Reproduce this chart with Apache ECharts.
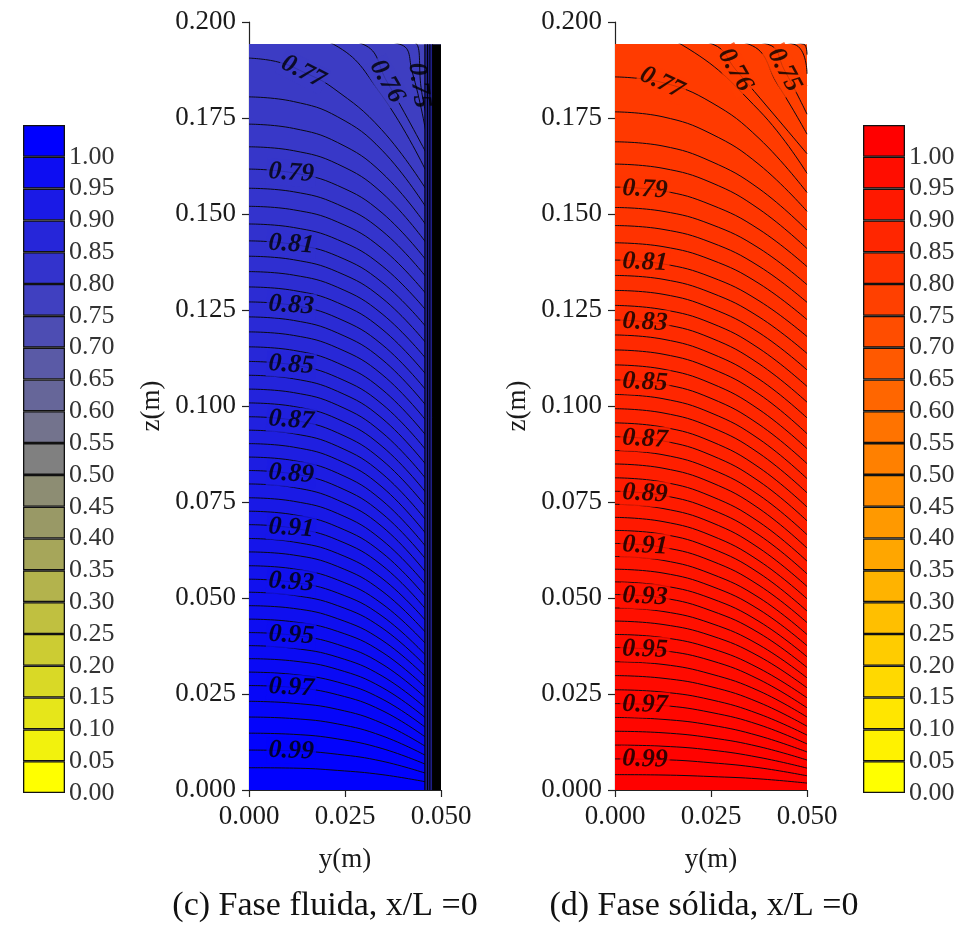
<!DOCTYPE html>
<html><head><meta charset="utf-8">
<script src="https://cdn.jsdelivr.net/npm/echarts@6/dist/echarts.min.js"></script>
<style>html,body{margin:0;padding:0;background:#fff}#c{width:960px;height:926px}</style>
</head><body><div id="c"></div>
<script>
// ---------------- DATA ----------------
const TOP_Z = 0.1942;               // top of computed domain (m)
// y sample positions (m) for the regular contour rows
const fluidY = [0, 0.01155, 0.0231, 0.03465, 0.0462];
const solidY = [0, 0.0125, 0.025, 0.0375, 0.05];

// regular contour levels (0.005 step) and z (m) at the sample positions
const fluidLevels = [0.775,0.78,0.785,0.79,0.795,0.80,0.805,0.81,0.815,0.82,0.825,0.83,0.835,0.84,0.845,0.85,0.855,0.86,0.865,0.87,0.875,0.88,0.885,0.89,0.895,0.90,0.905,0.91,0.915,0.92,0.925,0.93,0.935,0.94,0.945,0.95,0.955,0.96,0.965,0.97,0.975,0.98,0.985,0.99,0.995];
const fluidZ = [
[.1805,.1793,.1753,.1666,.1516],[.1734,.1723,.1686,.1607,.1470],[.1675,.1665,.1630,.1555,.1424],[.1617,.1607,.1574,.1503,.1379],
[.1567,.1558,.1525,.1456,.1335],[.1520,.1511,.1479,.1410,.1291],[.1474,.1465,.1433,.1365,.1248],[.1430,.1421,.1390,.1322,.1205],
[.1390,.1381,.1349,.1281,.1163],[.1350,.1341,.1309,.1240,.1122],[.1310,.1301,.1269,.1200,.1081],[.1271,.1262,.1229,.1160,.1040],
[.1232,.1223,.1190,.1121,.1000],[.1193,.1184,.1151,.1082,.0961],[.1154,.1145,.1112,.1043,.0922],[.1116,.1107,.1074,.1005,.0884],
[.1080,.1071,.1038,.0968,.0846],[.1044,.1035,.1002,.0931,.0809],[.1008,.0999,.0966,.0895,.0773],[.0972,.0963,.0930,.0859,.0737],
[.0937,.0928,.0895,.0824,.0701],[.0902,.0893,.0860,.0789,.0666],[.0867,.0858,.0825,.0754,.0632],[.0832,.0823,.0790,.0720,.0599],
[.0797,.0788,.0755,.0686,.0565],[.0761,.0752,.0720,.0651,.0533],[.0726,.0717,.0685,.0618,.0501],[.0691,.0682,.0651,.0585,.0469],
[.0655,.0646,.0616,.0551,.0439],[.0620,.0612,.0582,.0518,.0408],[.0584,.0576,.0547,.0485,.0379],[.0549,.0541,.0513,.0453,.0349],
[.0515,.0507,.0480,.0422,.0321],[.0480,.0473,.0446,.0390,.0293],[.0445,.0438,.0413,.0359,.0265],[.0410,.0403,.0379,.0328,.0238],
[.0376,.0369,.0346,.0297,.0212],[.0342,.0336,.0314,.0267,.0186],[.0307,.0301,.0281,.0237,.0161],[.0272,.0267,.0248,.0207,.0136],
[.0231,.0226,.0210,.0174,.0112],[.0190,.0186,.0172,.0141,.0089],[.0148,.0145,.0133,.0108,.0066],[.0104,.0102,.0093,.0075,.0043],
[.0058,.0057,.0051,.0040,.0021]
];
// contours near the top edge, given as [y, z] points
const fluidTopLevels = [0.75, 0.755, 0.76, 0.765, 0.77];
const fluidTopPts = [
[[0,.2],[.0437,.1942],[.0448,.183],[.0462,.1755]],
[[0,.2],[.0393,.1942],[.0425,.187],[.0462,.1706]],
[[0,.2],[.0297,.1942],[.0359,.1845],[.0462,.1658]],
[[0,.2],[.022,.1942],[.0345,.181],[.0462,.161]],
[[0,.1906],[.0075,.1896],[.0141,.187],[.0219,.1828],[.0345,.172],[.0462,.1563]]
];
// dense wall layer of the fluid phase
const fluidWallLines = [0.0458, 0.0465, 0.0471, 0.0478];
const fluidStripNavy = [0.0458, 0.0479];
const fluidStripBlack = [0.0479, 0.05];

const solidLevels = [0.77,0.775,0.78,0.785,0.79,0.795,0.80,0.805,0.81,0.815,0.82,0.825,0.83,0.835,0.84,0.845,0.85,0.855,0.86,0.865,0.87,0.875,0.88,0.885,0.89,0.895,0.90,0.905,0.91,0.915,0.92,0.925,0.93,0.935,0.94,0.945,0.95,0.955,0.96,0.965,0.97,0.975,0.98,0.985,0.99,0.995];
const solidZ = [
[.1857,.1842,.1791,.1697,.1556],[.1766,.1753,.1709,.1629,.1507],[.1688,.1677,.1637,.1566,.1458],[.1630,.1619,.1582,.1513,.1410],
[.1570,.1560,.1524,.1460,.1363],[.1517,.1507,.1473,.1411,.1316],[.1470,.1460,.1426,.1364,.1270],[.1425,.1415,.1381,.1319,.1225],
[.1380,.1370,.1336,.1274,.1181],[.1340,.1330,.1295,.1232,.1137],[.1301,.1291,.1255,.1191,.1094],[.1262,.1251,.1216,.1150,.1051],
[.1224,.1213,.1177,.1110,.1010],[.1185,.1174,.1137,.1070,.0969],[.1146,.1135,.1098,.1031,.0928],[.1107,.1096,.1059,.0991,.0889],
[.1068,.1057,.1020,.0952,.0850],[.1030,.1019,.0982,.0914,.0811],[.0993,.0982,.0945,.0877,.0774],[.0956,.0945,.0908,.0840,.0737],
[.0920,.0909,.0872,.0804,.0701],[.0884,.0873,.0836,.0768,.0665],[.0849,.0838,.0801,.0733,.0630],[.0813,.0802,.0765,.0698,.0596],
[.0778,.0767,.0731,.0664,.0563],[.0744,.0733,.0697,.0630,.0530],[.0710,.0699,.0663,.0597,.0498],[.0676,.0666,.0630,.0565,.0466],
[.0642,.0632,.0597,.0533,.0436],[.0608,.0598,.0563,.0501,.0405],[.0575,.0565,.0531,.0470,.0376],[.0542,.0532,.0499,.0439,.0347],
[.0509,.0500,.0467,.0409,.0319],[.0474,.0465,.0434,.0378,.0292],[.0440,.0431,.0402,.0348,.0266],[.0405,.0397,.0369,.0317,.0240],
[.0371,.0363,.0337,.0288,.0214],[.0334,.0327,.0302,.0258,.0190],[.0298,.0291,.0269,.0228,.0166],[.0261,.0255,.0235,.0198,.0143],
[.0225,.0220,.0202,.0170,.0120],[.0189,.0184,.0169,.0141,.0099],[.0153,.0149,.0136,.0113,.0078],[.0117,.0114,.0104,.0085,.0057],
[.0081,.0079,.0071,.0058,.0037],[.0040,.0039,.0035,.0029,.0018]
];
const solidTopLevels = [0.74, 0.745, 0.75, 0.755, 0.76, 0.765];
const solidTopPts = [
[[0,.2],[.0492,.1942],[.05,.1915]],
[[0,.2],[.0466,.1942],[.05,.1865]],
[[0,.2],[.0398,.1942],[.0441,.1875],[.05,.176]],
[[0,.2],[.0349,.1942],[.0425,.1835],[.05,.1708]],
[[0,.2],[.0255,.1942],[.0315,.1875],[.05,.1657]],
[[0,.1995],[.0172,.1942],[.0375,.177],[.05,.1606]]
];

// contour labels: [text, y, z, rotation, boxed]
const fluidLabels = [
['0.77',0.0141,0.1870,-27,1],['0.76',0.0359,0.1845,-60,1],['0.75',0.0443,0.1835,-82,0],
['0.79',0.011,0.1607,-4,1],['0.81',0.011,0.1421,-4,1],['0.83',0.011,0.1262,-4,1],['0.85',0.011,0.1107,-4,1],
['0.87',0.011,0.0963,-4,1],['0.89',0.011,0.0823,-4,1],['0.91',0.011,0.0682,-4,1],['0.93',0.011,0.0541,-4,1],
['0.95',0.011,0.0403,-3,1],['0.97',0.011,0.0267,-3,1],['0.99',0.011,0.0102,-2,1]
];
const solidLabels = [
['0.77',0.0122,0.1842,-25,1],['0.76',0.0313,0.1875,-60,1],['0.75',0.0441,0.1875,-62,1],
['0.79',0.0078,0.1564,-3,1],['0.81',0.0078,0.1374,-3,1],['0.83',0.0078,0.1218,-3,1],['0.85',0.0078,0.1062,-3,1],
['0.87',0.0078,0.0914,-3,1],['0.89',0.0078,0.0772,-3,1],['0.91',0.0078,0.0636,-3,1],['0.93',0.0078,0.0504,-3,1],
['0.95',0.0078,0.0366,-2,1],['0.97',0.0078,0.0222,-2,1],['0.99',0.0078,0.0080,-2,1]
];

// axis ticks
const yTicks = [0, 0.025, 0.05];
const zTicks = [0, 0.025, 0.05, 0.075, 0.1, 0.125, 0.15, 0.175, 0.2];
// colour bar bands (lower bounds) and labels
const cbBands = [0,0.05,0.10,0.15,0.20,0.25,0.30,0.35,0.40,0.45,0.50,0.55,0.60,0.65,0.70,0.75,0.80,0.85,0.90,0.95,1.00];
const cbTop = 1.05;
const cbLabels = ['0.00','0.05','0.10','0.15','0.20','0.25','0.30','0.35','0.40','0.45','0.50','0.55','0.60','0.65','0.70','0.75','0.80','0.85','0.90','0.95','1.00'];
const captions = ['(c) Fase fluida, x/L =0', '(d) Fase sólida, x/L =0'];

// ---------------- STYLE ----------------
const FONT = 'Liberation Serif, Times New Roman, serif';
function fmap(v){ // yellow -> gray -> blue
  let r,g,b;
  if (v >= 0.5){ const t=(1-v)/0.5; r=128*t; g=128*t; b=255-127*t; }
  else { const t=v/0.5; r=255-127*t; g=r; b=128*t; }
  return 'rgb('+Math.round(r)+','+Math.round(g)+','+Math.round(b)+')';
}
function smap(v){ // yellow -> red
  const g = Math.max(0, Math.min(255, 255*(1-v)));
  return 'rgb(255,'+Math.round(g)+',0)';
}

const PX = 3840; // px per metre
const G = {fluid:{left:249}, solid:{left:615}};
const axisTop = 22, axisH = 768;
const dataTop = axisTop + (0.2 - TOP_Z)*PX;
const SMOOTH = 0.45;

const grids = [], xAxes = [], yAxes = [], series = [];

function addPlot(left, map, levels, rows, ys, topLevels, topPts, labels, isFluid){
  // data grid
  const gi = grids.length;
  grids.push({left:left, top:dataTop, width:0.05*PX, height:TOP_Z*PX, show:true, backgroundColor: map(0.7375), borderWidth:0});
  xAxes.push({gridIndex:gi, type:'value', min:0, max:0.05, show:false});
  yAxes.push({gridIndex:gi, type:'value', min:0, max:TOP_Z, show:false});
  // axis grid
  const ai = grids.length;
  grids.push({left:left, top:axisTop, width:0.05*PX, height:axisH, show:false});
  xAxes.push({gridIndex:ai, type:'value', min:yTicks[0], max:yTicks[yTicks.length-1], interval:yTicks[1]-yTicks[0],
    axisLine:{show:true, lineStyle:{color:'#222', width:1.2}},
    axisTick:{show:true, length:7, lineStyle:{color:'#222', width:1.2}},
    splitLine:{show:false},
    axisLabel:{margin:13, fontFamily:FONT, fontSize:27, color:'#1a1a1a', formatter:v=>v.toFixed(3)},
    name:'y(m)', nameLocation:'middle', nameGap:56, nameTextStyle:{fontFamily:FONT, fontSize:27, color:'#1a1a1a'}});
  yAxes.push({gridIndex:ai, type:'value', min:zTicks[0], max:zTicks[zTicks.length-1], interval:zTicks[1]-zTicks[0],
    axisLine:{show:true, lineStyle:{color:'#222', width:1.2}},
    axisTick:{show:true, length:7, lineStyle:{color:'#222', width:1.2}},
    splitLine:{show:false},
    axisLabel:{margin:13, fontFamily:FONT, fontSize:27, color:'#1a1a1a', formatter:v=>v.toFixed(3)},
    name:'z(m)', nameLocation:'middle', nameGap:84, nameRotate:90, nameTextStyle:{fontFamily:FONT, fontSize:27, color:'#1a1a1a'}});

  const contours = [];
  topLevels.forEach((v,i)=>contours.push({v:v, pts:topPts[i]}));
  levels.forEach((v,i)=>contours.push({v:v, pts:ys.map((y,j)=>[y, rows[i][j]])}));
  contours.sort((a,b)=>a.v-b.v);
  contours.forEach(c=>{
    series.push({type:'line', xAxisIndex:gi, yAxisIndex:gi, data:c.pts, smooth:SMOOTH,
      symbol:'none', silent:true, z:1, lineStyle:{width:0, opacity:0},
      areaStyle:{color:map(c.v+0.0025), opacity:1, origin:'start'}});
  });
  contours.forEach(c=>{
    series.push({type:'line', xAxisIndex:gi, yAxisIndex:gi, data:c.pts, smooth:SMOOTH,
      symbol:'none', silent:true, z:3, lineStyle:{width:1, color:'#0a0a14'}});
  });
  if (isFluid){
    series.push({type:'line', xAxisIndex:gi, yAxisIndex:gi, data:fluidStripNavy.map(y=>[y,TOP_Z]), symbol:'none', silent:true, z:4,
      lineStyle:{width:0}, areaStyle:{color:'#1e1e86', opacity:1, origin:'start'}});
    series.push({type:'line', xAxisIndex:gi, yAxisIndex:gi, data:fluidStripBlack.map(y=>[y,TOP_Z]), symbol:'none', silent:true, z:4,
      lineStyle:{width:0}, areaStyle:{color:'#000', opacity:1, origin:'start'}});
    fluidWallLines.forEach(y=>{
      series.push({type:'line', xAxisIndex:gi, yAxisIndex:gi, data:[[y,0],[y,TOP_Z]], symbol:'none', silent:true, z:5,
        lineStyle:{width:1, color:'#000'}});
    });
  }
  series.push({type:'scatter', xAxisIndex:gi, yAxisIndex:gi, symbolSize:1, silent:true, z:6,
    itemStyle:{color:'rgba(0,0,0,0)'},
    data: labels.map(l=>({name:l[0], value:[l[1], l[2]],
      label:{rotate:l[3], backgroundColor: l[4] ? map(parseFloat(l[0])) : 'transparent'}})),
    label:{show:true, position:'inside', formatter:'{b}', fontFamily:FONT, fontStyle:'italic', fontWeight:'bold',
      fontSize:26, color:'#000', padding:[0,2]}});
}

function addColorbar(left, map){
  const ci = grids.length;
  grids.push({left:left, top:125, width:42, height:668, show:false});
  xAxes.push({gridIndex:ci, type:'category', data:['c'], show:false});
  yAxes.push({gridIndex:ci, type:'value', min:0, max:cbTop, interval:0.05, position:'right',
    axisLine:{show:false}, axisTick:{show:false}, splitLine:{show:false},
    axisLabel:{margin:4, fontFamily:FONT, fontSize:26, color:'#333', padding:[7,0,0,0],
      formatter:(v,i)=> (cbLabels[i] !== undefined ? cbLabels[i] : '')}});
  cbBands.forEach((b,k)=>{
    const h = (k < cbBands.length-1 ? cbBands[k+1] : cbTop) - b;
    series.push({type:'bar', xAxisIndex:ci, yAxisIndex:ci, stack:'cb'+ci, barWidth:'100%', silent:true,
      data:[h], itemStyle:{color:map(b), borderColor:'#111', borderWidth:1.3}});
  });
}

addPlot(G.fluid.left, fmap, fluidLevels, fluidZ, fluidY, fluidTopLevels, fluidTopPts, fluidLabels, true);
addPlot(G.solid.left, smap, solidLevels, solidZ, solidY, solidTopLevels, solidTopPts, solidLabels, false);
addColorbar(23, fmap);
addColorbar(863, smap);

const chart = echarts.init(document.getElementById('c'), null, {renderer:'canvas'});
chart.setOption({
  animation:false,
  backgroundColor:'#fff',
  title:[
    {text:captions[0], left:320, top:884, textAlign:'center', textStyle:{fontFamily:FONT, fontSize:34, fontWeight:'normal', color:'#111'}},
    {text:captions[1], left:699, top:884, textAlign:'center', textStyle:{fontFamily:FONT, fontSize:34, fontWeight:'normal', color:'#111'}}
  ],
  grid:grids, xAxis:xAxes, yAxis:yAxes, series:series
});
</script></body></html>
